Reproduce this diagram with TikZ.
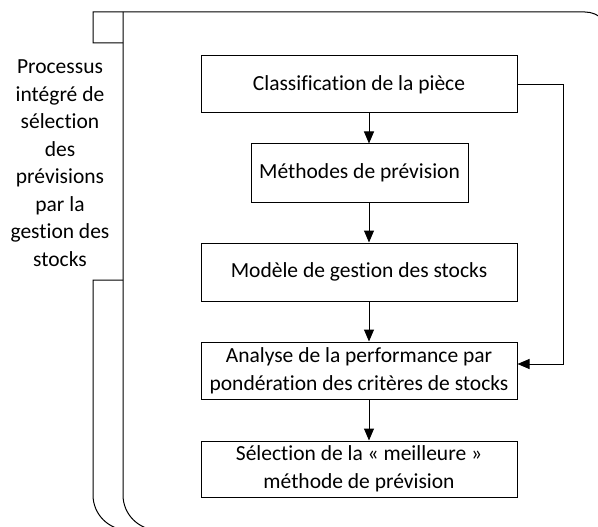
\documentclass[tikz,border=0pt]{standalone}
\usepackage{fontspec}
\setmainfont{Carlito}[Ligatures=NoCommon]
\usepackage{tikz}
\usetikzlibrary{arrows.meta,positioning}

\begin{document}
\begin{tikzpicture}[
        x=1pt, y=-1pt,
        trait/.style={line width=1pt},
        boite/.style={
            draw,
            line width=1pt,
            minimum width=316pt,
            minimum height=57pt,
            align=center,
            inner sep=0pt,
            font=\fontsize{21.5}{28}\selectfont
        },
        fleche/.style={
            line width=1pt,
            -{Triangle[width=10pt,length=12pt]}
        }
    ]
                \useasboundingbox (0,0) rectangle (598,527);
                \clip (0,0) rectangle (598,527);

                % cadre du processus
                \draw[trait] (123,43) -- (93,43) -- (93,12) -- (585,12)
                    arc[start angle=-90, end angle=0, radius=25];
                \draw[trait] (123,12) -- (123,495)
                    arc[start angle=180, end angle=90, radius=35];
                \draw[trait] (123,280) -- (93,280) -- (93,495)
                    arc[start angle=180, end angle=90, radius=35];

                \node[
                    align=center,
                    font=\fontsize{21.5}{27.5}\selectfont
                ] (titre) at (60,163) {Processus\\intégré de\\sélection\\des\\prévisions\\par la\\gestion des\\stocks};

                % etapes
                \node[boite] (classif) at (359,84.5) {Classification de la pièce};
                \node[boite, minimum width=217pt, minimum height=58pt] (methodes) at (359.5,173) {Méthodes de prévision};
                \node[boite, minimum height=58pt] (modele) at (359,272) {Modèle de gestion des stocks};
                \node[boite] (analyse) at (359,370.5) {\raisebox{-2pt}{Analyse de la performance par}\\\raisebox{-2pt}{pondération des critères de stocks}};
                \node[boite, minimum height=56pt] (selection) at (359,469) {\raisebox{-3pt}{Sélection de la « meilleure »}\\\raisebox{-3pt}{méthode de prévision}};

                \coordinate (axe) at (369,0);
                \coordinate (coude) at (563,364);

                \draw[fleche] (classif.south -| axe) to (methodes.north -| axe);
                \draw[fleche] (methodes.south -| axe) to (modele.north -| axe);
                \draw[fleche] (modele.south -| axe) to (analyse.north -| axe);
                \draw[fleche] (analyse.south -| axe) to (selection.north -| axe);
                \draw[fleche] (classif.east) -| (coude) -- (coude -| analyse.east);

\end{tikzpicture}
\end{document}
